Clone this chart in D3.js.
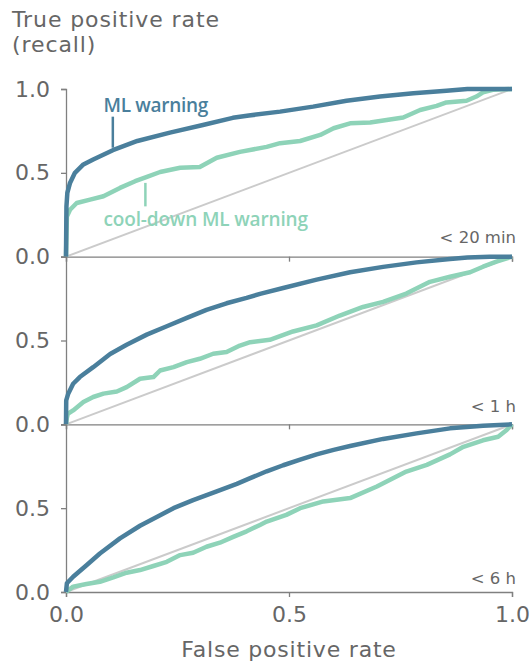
<!DOCTYPE html>
<html>
<head>
<meta charset="utf-8">
<script src="https://cdn.jsdelivr.net/npm/d3@7"></script>
<style>
  html, body { margin: 0; padding: 0; background: #ffffff; }
  svg { display: block; }
</style>
</head>
<body>
<svg id="chart" width="532" height="667"></svg>
<script>
// ROC curves, [false positive rate, true positive rate], per prediction horizon
const horizons = ["< 20 min", "< 1 h", "< 6 h"];

const mlWarning20min = [
  [0, 0], [0.001, 0.30], [0.003, 0.38], [0.009, 0.44], [0.02, 0.50], [0.039, 0.55],
  [0.061, 0.58], [0.105, 0.635], [0.16, 0.69], [0.233, 0.74], [0.307, 0.785],
  [0.374, 0.828], [0.41, 0.842], [0.48, 0.865], [0.554, 0.895], [0.629, 0.93],
  [0.704, 0.955], [0.779, 0.975], [0.853, 0.99], [0.9, 1.0], [1.0, 1.0]
];
const coolDown20min = [
  [0, 0], [0.002, 0.24], [0.009, 0.28], [0.024, 0.32], [0.054, 0.34], [0.084, 0.36],
  [0.121, 0.41], [0.155, 0.45], [0.18, 0.475], [0.211, 0.505], [0.256, 0.53],
  [0.3, 0.535], [0.338, 0.59], [0.39, 0.625], [0.45, 0.655], [0.48, 0.677],
  [0.525, 0.69], [0.57, 0.726], [0.6, 0.766], [0.637, 0.795], [0.682, 0.80],
  [0.719, 0.815], [0.756, 0.83], [0.794, 0.875], [0.831, 0.899], [0.853, 0.92],
  [0.898, 0.93], [0.92, 0.955], [0.935, 0.98], [0.957, 0.995], [1, 1]
];

const mlWarning1h = [
  [0, 0], [0.0005, 0.143], [0.005, 0.183], [0.016, 0.242], [0.031, 0.282], [0.061, 0.341],
  [0.099, 0.42], [0.136, 0.475], [0.181, 0.535], [0.226, 0.585], [0.271, 0.635],
  [0.315, 0.683], [0.36, 0.722], [0.405, 0.754], [0.435, 0.778], [0.487, 0.813],
  [0.562, 0.863], [0.637, 0.907], [0.711, 0.939], [0.786, 0.966], [0.861, 0.986],
  [0.9, 0.995], [0.95, 1.0], [1, 1]
];
const coolDown1h = [
  [0, 0], [0.002, 0.04], [0.004, 0.063], [0.016, 0.083], [0.039, 0.133], [0.061, 0.163],
  [0.084, 0.183], [0.114, 0.196], [0.136, 0.222], [0.166, 0.272], [0.196, 0.282],
  [0.211, 0.321], [0.241, 0.341], [0.271, 0.371], [0.3, 0.391], [0.33, 0.421],
  [0.36, 0.431], [0.39, 0.47], [0.413, 0.49], [0.457, 0.504], [0.509, 0.554],
  [0.562, 0.59], [0.614, 0.649], [0.666, 0.70], [0.711, 0.73], [0.763, 0.78],
  [0.816, 0.85], [0.861, 0.88], [0.906, 0.907], [0.935, 0.94], [0.965, 0.97], [1, 1]
];

const mlWarning6h = [
  [0, 0], [0.002, 0.052], [0.016, 0.091], [0.046, 0.16], [0.076, 0.23], [0.121, 0.32],
  [0.166, 0.395], [0.211, 0.458], [0.241, 0.50], [0.285, 0.548], [0.338, 0.60],
  [0.383, 0.645], [0.413, 0.679], [0.45, 0.72], [0.487, 0.756], [0.525, 0.79],
  [0.562, 0.821], [0.6, 0.848], [0.637, 0.871], [0.711, 0.913], [0.786, 0.946],
  [0.861, 0.976], [0.935, 0.992], [1, 1]
];
const coolDown6h = [
  [0, 0], [0.016, 0.032], [0.046, 0.048], [0.076, 0.061], [0.106, 0.087], [0.136, 0.115],
  [0.166, 0.131], [0.196, 0.155], [0.226, 0.18], [0.256, 0.22], [0.285, 0.234],
  [0.315, 0.27], [0.345, 0.294], [0.375, 0.329], [0.405, 0.362], [0.435, 0.40],
  [0.45, 0.42], [0.494, 0.46], [0.525, 0.50], [0.577, 0.54], [0.637, 0.56],
  [0.697, 0.629], [0.763, 0.718], [0.809, 0.758], [0.861, 0.821], [0.891, 0.866],
  [0.935, 0.905], [0.969, 0.926], [0.988, 0.966], [1, 1]
];

const chance = [[0, 0], [1, 1]];
const xTicks = [0, 0.5, 1];
const yTicks = [0, 0.5, 1];

const mlSeries = [mlWarning20min, mlWarning1h, mlWarning6h];
const coolSeries = [coolDown20min, coolDown1h, coolDown6h];

// layout
const plotLeft = 66, plotRight = 512, plotTop = 89, plotBottom = 592;
const panelH = (plotBottom - plotTop) / 3;
const axisColor = "#808080";
const textColor = "#666666";
const mlColor = "#4a7f9c";
const coolColor = "#8ed3b8";
const diagColor = "#cbcbcb";
const axisFont = "'DejaVu Sans', sans-serif";
const noteFont = "'Open Sans', sans-serif";

const svg = d3.select("#chart");
const x = d3.scaleLinear().domain([0, 1]).range([plotLeft, plotRight]);

horizons.forEach((label, i) => {
  const y0 = plotTop + (i + 1) * panelH;
  const y = d3.scaleLinear().domain([0, 1]).range([y0, y0 - panelH]);
  const g = svg.append("g");

  // y axis: full tick labels on the top panel, shared 1.0 boundary below
  const shownYTicks = i === 0 ? yTicks : yTicks.filter(v => v < 1);
  const yAxis = d3.axisLeft(y).tickValues(shownYTicks).tickSize(5).tickPadding(11)
    .tickFormat(d3.format(".1f"));
  const ya = g.append("g").attr("transform", `translate(${plotLeft},0)`).call(yAxis);
  ya.select(".domain").attr("stroke", axisColor).attr("stroke-width", 1.3);
  ya.selectAll(".tick line").attr("stroke", axisColor).attr("stroke-width", 1.3);
  ya.selectAll(".tick text").attr("fill", textColor)
    .style("font-family", axisFont).style("font-size", "22px");

  // x axis of each panel; labels only on the bottom one
  const xAxis = d3.axisBottom(x).tickValues(xTicks).tickSize(5).tickPadding(9)
    .tickFormat(i === 2 ? d3.format(".1f") : () => "");
  const xa = g.append("g").attr("transform", `translate(0,${y0})`).call(xAxis);
  xa.select(".domain").attr("stroke", axisColor).attr("stroke-width", 1.3);
  xa.selectAll(".tick line").attr("stroke", axisColor).attr("stroke-width", 1.3);
  xa.selectAll(".tick text").attr("fill", textColor)
    .style("font-family", axisFont).style("font-size", "22px");

  const line = d3.line().x(d => x(d[0])).y(d => y(d[1]));

  g.append("path").datum(chance).attr("d", line)
    .attr("fill", "none").attr("stroke", diagColor).attr("stroke-width", 2);
  g.append("path").datum(coolSeries[i]).attr("d", line)
    .attr("fill", "none").attr("stroke", coolColor).attr("stroke-width", 4.5)
    .attr("stroke-linejoin", "round");
  g.append("path").datum(mlSeries[i]).attr("d", line)
    .attr("fill", "none").attr("stroke", mlColor).attr("stroke-width", 4.5)
    .attr("stroke-linejoin", "round");

  const labelBaseline = [y0 - 14, y0 - 12, y0 - 8][i];
  g.append("text").attr("x", 516).attr("y", labelBaseline)
    .attr("text-anchor", "end").attr("fill", textColor)
    .style("font-family", axisFont).style("font-size", "16.5px")
    .text(label);

  if (i === 0) {
    // series annotations with leader lines
    g.append("text").attr("x", x(0.084)).attr("y", y(0.862))
      .attr("fill", mlColor).style("font-family", noteFont)
      .style("font-size", "19px").style("font-weight", 600)
      .style("letter-spacing", "-0.3px").text("ML warning");
    g.append("line").attr("x1", x(0.105)).attr("x2", x(0.105))
      .attr("y1", y(0.835)).attr("y2", y(0.65))
      .attr("stroke", mlColor).attr("stroke-width", 2.5);

    g.append("text").attr("x", x(0.084)).attr("y", y(0.185))
      .attr("fill", coolColor).style("font-family", noteFont)
      .style("font-size", "19px").style("font-weight", 600)
      .style("letter-spacing", "-0.15px").text("cool-down ML warning");
    g.append("line").attr("x1", x(0.178)).attr("x2", x(0.178))
      .attr("y1", y(0.44)).attr("y2", y(0.30))
      .attr("stroke", coolColor).attr("stroke-width", 2.5);
  }
});

// axis titles
svg.append("text").attr("x", 12).attr("y", 27).attr("fill", textColor)
  .style("font-family", axisFont).style("font-size", "22px")
  .style("letter-spacing", "0.9px").text("True positive rate");
svg.append("text").attr("x", 12).attr("y", 52).attr("fill", textColor)
  .style("font-family", axisFont).style("font-size", "22px")
  .style("letter-spacing", "0.9px").text("(recall)");
svg.append("text").attr("x", (plotLeft + plotRight) / 2).attr("y", 657)
  .attr("text-anchor", "middle").attr("fill", textColor)
  .style("font-family", axisFont).style("font-size", "22px")
  .style("letter-spacing", "0.8px").text("False positive rate");
</script>
</body>
</html>
